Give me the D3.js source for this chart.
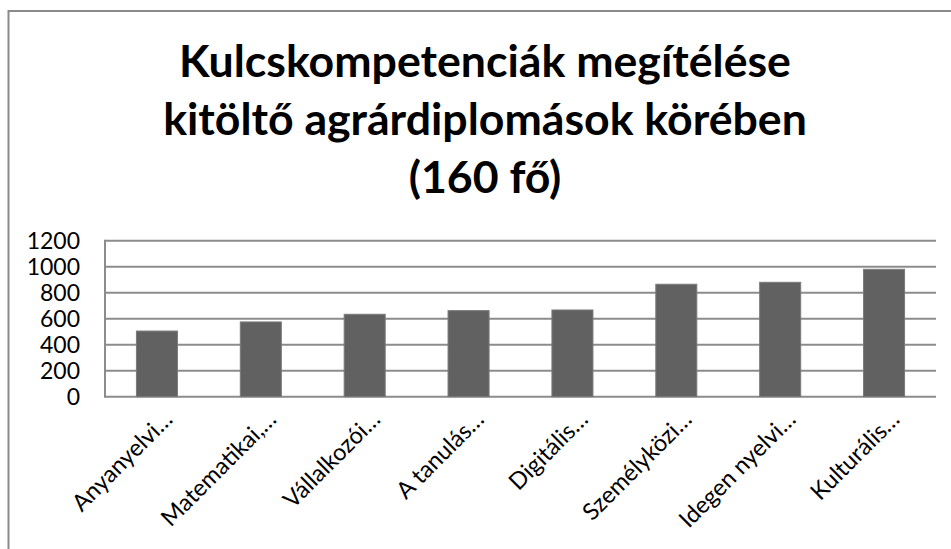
<!DOCTYPE html>
<html>
<head>
<meta charset="utf-8">
<script src="https://cdn.jsdelivr.net/npm/d3@7"></script>
<style>
  body { margin: 0; background: #fff; }
  svg { display: block; font-family: Lato, "Open Sans", sans-serif; }
</style>
</head>
<body>
<svg width="951" height="549"></svg>
<script>
const categories = ["Anyanyelvi…", "Matematikai,…", "Vállalkozói…", "A tanulás…",
                    "Digitális…", "Személyközi…", "Idegen nyelvi…", "Kulturális…"];
const values = [505, 575, 634, 662, 667, 865, 880, 980];
const yTicks = [0, 200, 400, 600, 800, 1000, 1200];
const titleLines = ["Kulcskompetenciák megítélése",
                    "kitöltő agrárdiplomások körében",
                    "(160 fő)"];

const svg = d3.select("svg"),
    width = +svg.attr("width"),
    height = +svg.attr("height");

const plot = {left: 105, right: 936, top: 240.7, bottom: 396.7};
const gridColor = "#8c8c8c";

// outer chart frame, runs off the right/bottom of the picture
svg.append("rect")
   .attr("x", 8.5).attr("y", 11)
   .attr("width", 1000).attr("height", 600)
   .attr("fill", "none")
   .attr("stroke", "#8a8a8a")
   .attr("stroke-width", 2);

// title
const title = svg.append("g").attr("class", "title");
const baselines = [77, 135, 193];
let titleText = title.selectAll("text")
   .data(titleLines)
   .enter().append("text")
   .attr("x", 485)
   .attr("y", (d, i) => baselines[i])
   .attr("text-anchor", "middle")
   .attr("font-weight", "bold")
   .attr("font-size", 46)
   .attr("fill", "#000")
   .text(d => d);

// fit the font so the long line matches the reference width
let w = titleText.nodes()[1].getComputedTextLength();
let fs = 46 * 644 / w;
titleText.attr("font-size", fs);

const x = d3.scaleBand()
    .domain(categories)
    .range([plot.left, plot.right])
    .paddingInner(0.605)
    .paddingOuter(0.3025);

const y = d3.scaleLinear()
    .domain([0, 1200])
    .range([plot.bottom, plot.top]);

// gridlines
svg.append("g")
   .attr("class", "grid")
   .selectAll("line")
   .data(yTicks)
   .enter().append("line")
   .attr("x1", plot.left).attr("x2", plot.right)
   .attr("y1", d => y(d)).attr("y2", d => y(d))
   .attr("stroke", gridColor)
   .attr("stroke-width", 2);

// left axis line
svg.append("line")
   .attr("x1", plot.left).attr("x2", plot.left)
   .attr("y1", plot.top - 1).attr("y2", plot.bottom + 1)
   .attr("stroke", gridColor)
   .attr("stroke-width", 2);

// bars
svg.append("g")
   .attr("class", "bars")
   .selectAll("rect")
   .data(values)
   .enter().append("rect")
   .attr("x", (d, i) => x(categories[i]))
   .attr("width", x.bandwidth())
   .attr("y", d => y(d))
   .attr("height", d => y(0) - y(d))
   .attr("fill", "#616161")
   .attr("stroke", "#7a7a7a")
   .attr("stroke-width", 1);

// y tick labels
svg.append("g")
   .attr("class", "yticks")
   .selectAll("text")
   .data(yTicks)
   .enter().append("text")
   .attr("x", 80)
   .attr("y", d => y(d))
   .attr("dy", "0.36em")
   .attr("text-anchor", "end")
   .attr("font-size", 23)
   .attr("fill", "#000")
   .text(d => d);

// category labels, rotated
svg.append("g")
   .attr("class", "xticks")
   .selectAll("text")
   .data(categories)
   .enter().append("text")
   .attr("transform", d => {
     let cx = x(d) + x.bandwidth() / 2 + 17;
     let cy = plot.bottom + 24;
     return `translate(${cx},${cy}) rotate(-45)`;
   })
   .attr("text-anchor", "end")
   .attr("font-size", 23.5)
   .attr("fill", "#000")
   .text(d => d);
</script>
</body>
</html>
